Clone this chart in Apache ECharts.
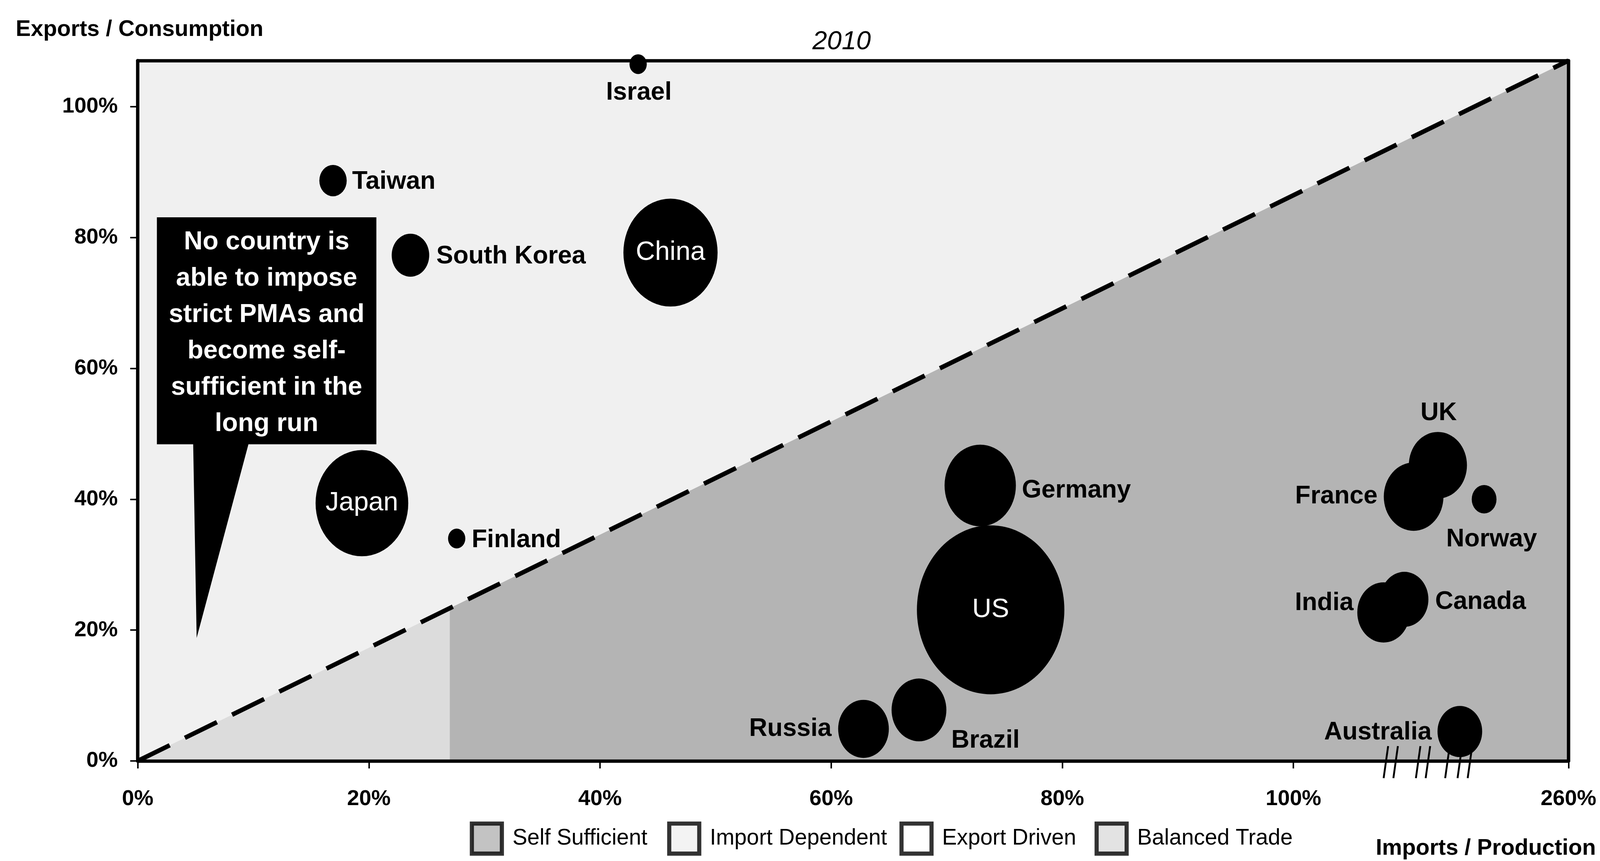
<!DOCTYPE html>
<html>
<head>
<meta charset="utf-8">
<script src="https://cdn.jsdelivr.net/npm/echarts@6/dist/echarts.min.js"></script>
<style>
html,body{margin:0;padding:0;background:#fff;overflow:hidden;}
#c{width:100vw;height:100vh;}
</style>
</head>
<body>
<div id="c"></div>
<script>
// ---------------- data ----------------
const countries = ['Israel','Taiwan','South Korea','China','Japan','Finland','Germany','US','Brazil','Russia','UK','France','Norway','India','Canada','Australia'];
const importsToProduction = [0.433,0.169,0.236,0.461,0.194,0.276,0.729,0.738,0.676,0.628,1.125,1.104,1.165,1.078,1.096,1.144];
const exportsToConsumption = [1.065,0.887,0.773,0.777,0.394,0.340,0.421,0.231,0.078,0.049,0.452,0.404,0.400,0.227,0.247,0.045];
const bubbleValue = [5.3,13.3,25,157.5,152.5,5.3,90.3,386,53.3,45.6,60,63.2,10.9,49,41,35.4];
const xTickValues = [0,0.2,0.4,0.6,0.8,1.0,1.238];
const xTickLabels = ['0%','20%','40%','60%','80%','100%','260%'];
const yTickValues = [0,0.2,0.4,0.6,0.8,1.0];
const yTickLabels = ['0%','20%','40%','60%','80%','100%'];
const yAxisMax = 1.0705;
const regionSplitX = 0.27;
const legendNames = ['Self Sufficient','Import Dependent','Export Driven','Balanced Trade'];
const calloutLines = ['No country is','able to impose','strict PMAs and','become self-','sufficient in the','long run'];
const chartTitle = '2010';
const yName = 'Exports / Consumption';
const xName = 'Imports / Production';

// ---------------- layout / styles (designed for 4264 x 2203) ----------------
const el = document.getElementById('c');
const chart = echarts.init(el, null, {renderer:'canvas'});
const W = chart.getWidth(), H = chart.getHeight();
const sx = W / 4264, sy = H / 2203, k = Math.min(sx, sy);
const X = v => v * sx, Y = v => v * sy, S = v => v * k;

const FONT = '"Liberation Sans", Arial, Helvetica, sans-serif';
const xMax = xTickValues[xTickValues.length - 1];
const slope = yAxisMax / xMax;
const labelStyle = {
  'Israel':      {align:'center', dx:2,   dy:73},
  'Taiwan':      {align:'left',   dx:51,  dy:3},
  'South Korea': {align:'left',   dx:69,  dy:3},
  'China':       {inside:true},
  'Japan':       {inside:true},
  'Finland':     {align:'left',   dx:40,  dy:4},
  'Germany':     {align:'left',   dx:111, dy:13},
  'US':          {inside:true},
  'Brazil':      {align:'left',   dx:86,  dy:79},
  'Russia':      {align:'right',  dx:-85, dy:0},
  'UK':          {align:'center', dx:2,   dy:-133},
  'France':      {align:'right',  dx:-96, dy:0},
  'Norway':      {align:'center', dx:20,  dy:103},
  'India':       {align:'right',  dx:-80, dy:-24},
  'Canada':      {align:'left',   dx:82,  dy:7},
  'Australia':   {align:'right',  dx:-75, dy:3}
};
const legendSwatch = ['#b4b4b4','#f0f0f0','#ffffff','#dcdcdc'];
const legendLeft = [1252,1778,2397,2917];

const lookup = (vals, labs) => v => {
  const i = vals.findIndex(t => Math.abs(t - v) < 1e-6);
  return i >= 0 ? labs[i] : '';
};

const bubbleData = countries.map((n, i) => {
  const s = labelStyle[n];
  const label = s.inside
    ? {show:true, formatter:'{b}', position:'inside', color:'#fff', fontSize:S(71), fontWeight:'normal', fontFamily:FONT}
    : {show:true, formatter:'{b}', position:'inside', align:s.align, verticalAlign:'middle', offset:[X(s.dx), Y(s.dy)],
       color:'#000', fontSize:S(67), fontWeight:'bold', fontFamily:FONT};
  return {name:n, value:[importsToProduction[i], exportsToConsumption[i], bubbleValue[i]], label};
});

const axisLineStyle = {color:'#000', width:S(9)};
const option = {
  animation:false,
  backgroundColor:'#ffffff',
  grid:{left:X(367), top:Y(155), width:X(3813), height:Y(1792), show:true, backgroundColor:'#f0f0f0', borderWidth:0,
        containLabel:false, outerBoundsMode:'none'},
  xAxis:[
    {type:'value', min:0, max:xMax, position:'bottom', z:10,
     axisLine:{show:true, onZero:false, lineStyle:axisLineStyle},
     axisTick:{show:true, customValues:xTickValues, length:S(20), lineStyle:{color:'#000', width:S(4)}},
     axisLabel:{show:true, customValues:xTickValues, formatter:lookup(xTickValues, xTickLabels),
                margin:Y(70), fontSize:S(58), fontWeight:'bold', color:'#000', fontFamily:FONT},
     splitLine:{show:false}},
    {type:'value', min:0, max:xMax, position:'top', z:10,
     axisLine:{show:true, onZero:false, lineStyle:axisLineStyle},
     axisTick:{show:false}, axisLabel:{show:false}, splitLine:{show:false}}
  ],
  yAxis:[
    {type:'value', min:0, max:yAxisMax, position:'left', z:10,
     axisLine:{show:true, onZero:false, lineStyle:axisLineStyle},
     axisTick:{show:true, customValues:yTickValues, length:S(20), lineStyle:{color:'#000', width:S(4)}},
     axisLabel:{show:true, customValues:yTickValues, formatter:lookup(yTickValues, yTickLabels),
                margin:X(53), fontSize:S(58), fontWeight:'bold', color:'#000', fontFamily:FONT},
     splitLine:{show:false}},
    {type:'value', min:0, max:yAxisMax, position:'right', z:10,
     axisLine:{show:true, onZero:false, lineStyle:axisLineStyle},
     axisTick:{show:false}, axisLabel:{show:false}, splitLine:{show:false}}
  ],
  legend: legendNames.map((n, i) => ({
    data:[n], left:X(legendLeft[i]), top:Y(2102), padding:0, itemWidth:S(80), itemHeight:S(80),
    icon:'rect', selectedMode:false,
    itemStyle:{borderColor:'#000', borderWidth:S(11)},
    textStyle:{fontSize:S(59), color:'#000', fontFamily:FONT, padding:[0,0,0,S(23)]}
  })),
  series:[
    {type:'line', silent:true, z:1, symbol:'none', lineStyle:{width:0},
     areaStyle:{color:'#dcdcdc', opacity:1},
     data:[[0,0],[regionSplitX, regionSplitX*slope]]},
    {type:'line', silent:true, z:1, symbol:'none', lineStyle:{width:0},
     areaStyle:{color:'#b4b4b4', opacity:1},
     data:[[regionSplitX, regionSplitX*slope],[xMax, yAxisMax]]},
    {type:'line', silent:true, z:3, symbol:'none',
     lineStyle:{color:'#000', width:S(12), type:[S(95), S(45)]},
     data:[[0,0],[xMax, yAxisMax]]},
    {type:'scatter', name:'countries', z:5, clip:true,
     symbol:'circle',
     symbolSize: v => { const d = 20*Math.sqrt(v[2]); return [X(d), Y(d*1.1)]; },
     itemStyle:{color:'#000', opacity:1},
     emphasis:{disabled:true},
     data:bubbleData},
    ...legendNames.map((n, i) => ({type:'scatter', name:n, data:[],
      itemStyle:{color:legendSwatch[i], borderColor:'#000', borderWidth:S(11)}}))
  ]
};
chart.setOption(option);

// ---------------- annotations ----------------
const px = (x, y) => chart.convertToPixel({xAxisIndex:0, yAxisIndex:0}, [x, y]);
const boxTL = px(0.0166, 0.831), boxBR = px(0.2065, 0.484);
const ptrL = px(0.048, 0.484), ptrR = px(0.0958, 0.484), ptrTip = px(0.051, 0.188);
const textC = px((0.0166+0.2065)/2, 0.654);
const axis0 = px(1.08, 0);
const breakOffsets = [0, 26, 86, 112, 164, 197, 224];

const graphics = [
  {type:'polygon', z:100, silent:true,
   shape:{points:[[boxTL[0],boxTL[1]],[boxBR[0],boxTL[1]],[boxBR[0],boxBR[1]],[ptrR[0],ptrR[1]],
                  [ptrTip[0],ptrTip[1]],[ptrL[0],ptrL[1]],[boxTL[0],boxBR[1]]]},
   style:{fill:'#000'}},
  {type:'text', z:101, silent:true, x:textC[0], y:textC[1],
   style:{text:calloutLines.join('\n'), fill:'#fff', font:'bold ' + S(69) + 'px ' + FONT, lineHeight:Y(93),
          align:'center', verticalAlign:'middle'}},
  {type:'text', z:101, silent:true, x:X(2243), y:Y(107),
   style:{text:chartTitle, fill:'#000', font:'italic ' + S(70) + 'px ' + FONT, align:'center', verticalAlign:'middle'}},
  {type:'text', z:101, silent:true, x:X(42), y:Y(76),
   style:{text:yName, fill:'#000', font:'bold ' + S(60) + 'px ' + FONT, align:'left', verticalAlign:'middle'}},
  {type:'text', z:101, silent:true, x:X(4253), y:Y(2171),
   style:{text:xName, fill:'#000', font:'bold ' + S(60) + 'px ' + FONT, align:'right', verticalAlign:'middle'}}
];
breakOffsets.forEach(o => {
  graphics.push({type:'line', z:101, silent:true,
    shape:{x1:axis0[0]+X(o+6), y1:axis0[1]-Y(38), x2:axis0[0]+X(o-6), y2:axis0[1]+Y(44)},
    style:{stroke:'#000', lineWidth:S(5)}});
});
chart.setOption({graphic:graphics});
</script>
</body>
</html>
